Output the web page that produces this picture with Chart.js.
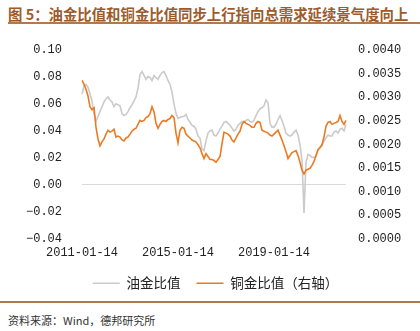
<!DOCTYPE html>
<html>
<head>
<meta charset="utf-8">
<script src="https://cdn.jsdelivr.net/npm/chart.js@4"></script>
<style>
  html, body { margin: 0; padding: 0; background: #fff; }
  body { width: 420px; height: 331px; position: relative; overflow: hidden; }
  #title {
    position: absolute; left: 8px; top: 3px; white-space: nowrap;
    font: bold 14.4px "Noto Sans CJK SC", sans-serif; color: #9c5b2c;
  }
  #titleRule { position: absolute; left: 8px; right: 0; top: 22px; height: 2px; background: #b07a4e; }
  #wrap { position: absolute; left: 0; top: 23px; width: 420px; height: 277px; }
  #footRule { position: absolute; left: 0; right: 0; top: 301px; height: 2px; background: #b07a4e; }
  #source {
    position: absolute; left: 8px; top: 312px; white-space: nowrap;
    font: 11px "Noto Sans CJK SC", sans-serif; color: #333;
  }
</style>
</head>
<body>
<div id="title">图 5：油金比值和铜金比值同步上行指向总需求延续景气度向上</div>
<div id="titleRule"></div>
<div id="wrap"><canvas id="chart"></canvas></div>
<div id="footRule"></div>
<div id="source">资料来源：Wind，德邦研究所</div>

<script>
// 月度数据，2011-01 至 2022-01
const seriesNames = ['油金比值', '铜金比值（右轴）'];

// 油金比值（左轴）
const oilGold = [
  0.0674, 0.0732, 0.0746, 0.0725, 0.0674, 0.0623, 0.0529, 0.0471, 0.0507, 0.0543,
  0.0580, 0.0616, 0.0638, 0.0652, 0.0630, 0.0616, 0.0580, 0.0601, 0.0594, 0.0587,
  0.0529, 0.0514, 0.0522, 0.0543, 0.0572, 0.0594, 0.0623, 0.0652, 0.0717, 0.0819,
  0.0841, 0.0812, 0.0783, 0.0805, 0.0797, 0.0775, 0.0812, 0.0797, 0.0783, 0.0812,
  0.0833, 0.0841, 0.0812, 0.0775, 0.0746, 0.0688, 0.0601, 0.0529, 0.0493, 0.0500,
  0.0507, 0.0507, 0.0522, 0.0485, 0.0464, 0.0442, 0.0435, 0.0413, 0.0362, 0.0347,
  0.0267, 0.0253, 0.0326, 0.0384, 0.0399, 0.0406, 0.0369, 0.0362, 0.0384, 0.0413,
  0.0435, 0.0464, 0.0471, 0.0456, 0.0442, 0.0420, 0.0399, 0.0413, 0.0442, 0.0456,
  0.0471, 0.0464, 0.0478, 0.0485, 0.0471, 0.0464, 0.0478, 0.0514, 0.0543, 0.0565,
  0.0572, 0.0587, 0.0630, 0.0609, 0.0456, 0.0428, 0.0428, 0.0449, 0.0485, 0.0514,
  0.0478, 0.0435, 0.0384, 0.0369, 0.0362, 0.0369, 0.0391, 0.0406, 0.0369, 0.0297,
  0.0181, -0.0211, 0.0166, 0.0225, 0.0217, 0.0203, 0.0203, 0.0210, 0.0260, 0.0282,
  0.0290, 0.0326, 0.0347, 0.0369, 0.0362, 0.0362, 0.0391, 0.0399, 0.0384, 0.0413,
  0.0420, 0.0399, 0.0449
];

// 铜金比值（右轴）
const copperGold = [
  0.003357, 0.003275, 0.003171, 0.003026, 0.002798, 0.002736, 0.002777, 0.002363, 0.002114, 0.001969,
  0.002052, 0.002114, 0.002218, 0.002300, 0.002259, 0.002280, 0.002321, 0.002155, 0.002176, 0.002155,
  0.002093, 0.002073, 0.002135, 0.002155, 0.002218, 0.002280, 0.002321, 0.002342, 0.002425, 0.002508,
  0.002487, 0.002508, 0.002570, 0.002591, 0.002653, 0.002798, 0.002694, 0.002446, 0.002342, 0.002425,
  0.002487, 0.002508, 0.002487, 0.002528, 0.002549, 0.002611, 0.002570, 0.002238, 0.002031, 0.002300,
  0.002363, 0.002342, 0.002218, 0.002176, 0.002135, 0.002093, 0.002073, 0.002052, 0.001990, 0.001927,
  0.001803, 0.001699, 0.001803, 0.001741, 0.001679, 0.001679, 0.001658, 0.001617, 0.001679, 0.001741,
  0.002010, 0.002259, 0.002238, 0.002218, 0.002176, 0.002093, 0.002052, 0.002135, 0.002218, 0.002280,
  0.002425, 0.002487, 0.002446, 0.002425, 0.002404, 0.002363, 0.002363, 0.002446, 0.002487, 0.002466,
  0.002300, 0.002280, 0.002259, 0.002238, 0.002197, 0.002176, 0.002218, 0.002259, 0.002300, 0.002197,
  0.002093, 0.001969, 0.001845, 0.001699, 0.001762, 0.001824, 0.001845, 0.001865, 0.001762, 0.001617,
  0.001451, 0.001368, 0.001451, 0.001471, 0.001492, 0.001554, 0.001637, 0.001762, 0.001886, 0.001927,
  0.001990, 0.002155, 0.002383, 0.002466, 0.002487, 0.002425, 0.002446, 0.002466, 0.002487, 0.002611,
  0.002487, 0.002425, 0.002508
];

// 日期标签：每月 14 日
const dates = [];
for (let i = 0; i < oilGold.length; i++) {
  const y = 2011 + Math.floor(i / 12);
  const m = (i % 12) + 1;
  dates.push(`${y}-${String(m).padStart(2, '0')}-14`);
}
const labelEvery = 48; // 每四年标一次

const tickFont = { family: '"Liberation Mono", monospace', size: 12 };
const fmt = (v, d) => v.toFixed(d).replace('-', '\u2212');

new Chart(document.getElementById('chart'), {
  type: 'line',
  data: {
    labels: dates,
    datasets: [
      {
        label: seriesNames[0],
        data: oilGold,
        yAxisID: 'y',
        borderColor: '#cbcbcb',
        backgroundColor: '#cbcbcb',
        borderWidth: 1.6,
        pointRadius: 0,
        tension: 0,
        order: 1
      },
      {
        label: seriesNames[1],
        data: copperGold,
        yAxisID: 'y1',
        borderColor: '#eb7a22',
        backgroundColor: '#eb7a22',
        borderWidth: 1.6,
        pointRadius: 0,
        tension: 0,
        order: 0
      }
    ]
  },
  options: {
    responsive: true,
    maintainAspectRatio: false,
    animation: false,
    layout: { padding: { left: 11, right: 0, top: 5, bottom: 0 } },
    plugins: {
      tooltip: { enabled: false },
      legend: {
        position: 'bottom',
        labels: {
          usePointStyle: true,
          pointStyle: 'line',
          pointStyleWidth: 27,
          padding: 16,
          color: '#222',
          font: { family: '"Noto Sans CJK SC", sans-serif', size: 13.5 },
          sort: (a, b) => a.datasetIndex - b.datasetIndex
        }
      }
    },
    scales: {
      x: {
        // 只留上方 padding，下方不再重复加一份
        afterFit: (s) => { s.height = 22; },
        grid: { display: false, drawTicks: false },
        border: { display: false },
        ticks: {
          autoSkip: false,
          maxRotation: 0,
          padding: 7,
          color: '#222',
          font: tickFont,
          callback: (v, i) => (i % labelEvery === 0 ? dates[i] : '')
        }
      },
      y: {
        position: 'left',
        min: -0.04,
        max: 0.10,
        afterFit: (s) => { s.width = 71; },
        grid: {
          drawTicks: false,
          color: (c) => (c.tick && Math.abs(c.tick.value) < 1e-9 ? '#d9d9d9' : 'transparent')
        },
        border: { display: false },
        ticks: {
          stepSize: 0.02,
          padding: 20,
          color: '#222',
          font: tickFont,
          callback: (v) => fmt(v, 2)
        }
      },
      y1: {
        position: 'right',
        min: 0,
        max: 0.004,
        afterFit: (s) => { s.width = 74; },
        grid: { display: false, drawTicks: false },
        border: { display: false },
        ticks: {
          stepSize: 0.0005,
          padding: 12,
          color: '#222',
          font: tickFont,
          callback: (v) => fmt(v, 4)
        }
      }
    }
  }
});
</script>
</body>
</html>
